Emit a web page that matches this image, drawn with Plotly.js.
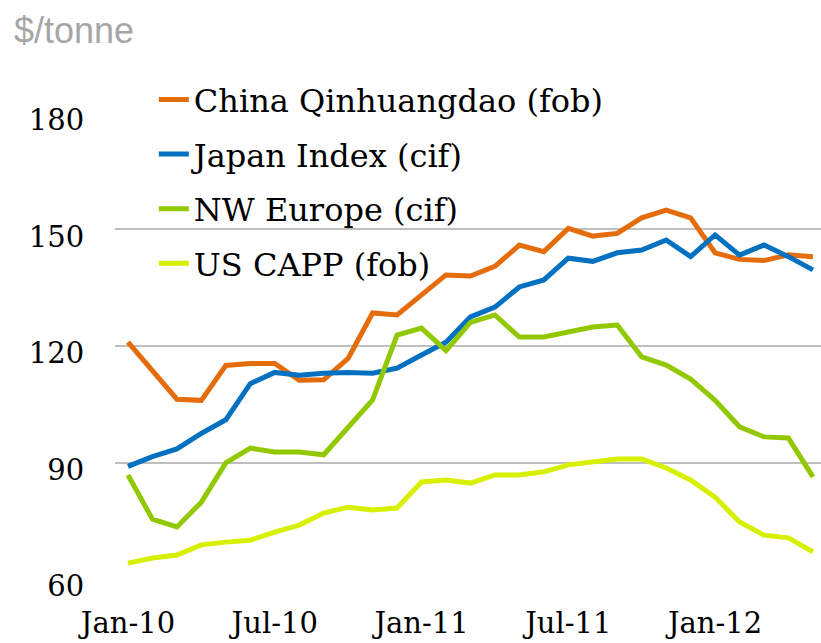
<!DOCTYPE html>
<html>
<head>
<meta charset="utf-8">
<script src="https://cdn.plot.ly/plotly-3.0.1.min.js"></script>
<style>html,body{margin:0;padding:0;background:#fff;}#chart{width:821px;height:643px;}</style>
</head>
<body>
<div id="chart"></div>
<script>
const months = ['Jan-10','Feb-10','Mar-10','Apr-10','May-10','Jun-10','Jul-10','Aug-10','Sep-10','Oct-10','Nov-10','Dec-10',
  'Jan-11','Feb-11','Mar-11','Apr-11','May-11','Jun-11','Jul-11','Aug-11','Sep-11','Oct-11','Nov-11','Dec-11',
  'Jan-12','Feb-12','Mar-12','Apr-12','May-12'];
const tickLabels = ['Jan-10','Jul-10','Jan-11','Jul-11','Jan-12'];
const yTicks = [60, 90, 120, 150, 180];

const seriesNames = ['China Qinhuangdao (fob)', 'Japan Index (cif)', 'NW Europe (cif)', 'US CAPP (fob)'];
const china  = [121, 113.5, 106.3, 106, 115, 115.5, 115.5, 111.2, 111.3, 116.8, 128.5, 128, 133, 138.3, 138, 140.5, 146, 144.3, 150.3, 148.3, 149, 153, 155, 153, 144, 142.3, 142, 143.5, 143];
const japan  = [89, 91.5, 93.5, 97.5, 101, 110.3, 113.2, 112.5, 113, 113.2, 113, 114.3, 117.7, 121, 127.5, 130, 135.2, 137, 142.6, 141.8, 144, 144.7, 147.3, 143, 148.6, 143.4, 146, 143, 139.6];
const europe = [86.8, 75.4, 73.4, 79.8, 89.9, 93.7, 92.7, 92.7, 92, 99.2, 106.1, 122.8, 124.6, 118.8, 126.1, 128, 122.3, 122.3, 123.6, 124.9, 125.4, 117.2, 115.1, 111.5, 106, 99.2, 96.6, 96.3, 86.3];
const usCapp = [64.1, 65.4, 66.2, 68.8, 69.5, 70, 72.1, 73.9, 77, 78.5, 77.8, 78.3, 85, 85.5, 84.7, 86.8, 86.8, 87.6, 89.4, 90.1, 90.9, 90.9, 88.6, 85.5, 81.1, 74.7, 71.3, 70.6, 67];
const colors = ['#E46C0A', '#0070C0', '#92C800', '#D8F000'];

const values = [china, japan, europe, usCapp];
const traces = values.map((v, i) => ({
  x: months, y: v, type: 'scatter', mode: 'lines', name: seriesNames[i],
  legendgroup: 'g' + i,
  line: {color: colors[i], width: 5, shape: 'linear'}
}));

const tickFont = {family: 'DejaVu Serif, serif', size: 29, color: '#000'};
const legendFont = {family: 'DejaVu Serif, serif', size: 32, color: '#000'};

const layout = {
  width: 821, height: 643,
  margin: {l: 115, r: 0, t: 112, b: 63, pad: 0},
  paper_bgcolor: '#fff', plot_bgcolor: '#fff',
  showlegend: true,
  title: {text: '$/tonne', x: 14/821, xanchor: 'left', xref: 'container', y: 1 - 18/643, yanchor: 'top', yref: 'container',
          font: {family: 'Liberation Sans, Arial, sans-serif', size: 36, color: '#A6A6A6'}},
  xaxis: {
    type: 'category', range: [-0.53, 28.33], tickmode: 'array', tickvals: tickLabels, ticktext: tickLabels,
    showgrid: false, zeroline: false, showline: false, ticks: 'outside', ticklen: 17, tickcolor: 'rgba(0,0,0,0)',
    tickfont: tickFont, automargin: false, fixedrange: true
  },
  yaxis: {
    range: [59.75, 180.25], tickmode: 'array', tickvals: yTicks, ticktext: yTicks.map(String),
    showgrid: true, gridcolor: '#BFBFBF', gridwidth: 2, zeroline: false, showline: false,
    ticks: 'outside', ticklen: 24, tickcolor: 'rgba(0,0,0,0)', tickfont: tickFont, ticklabelshift: 7,
    automargin: false, fixedrange: true
  },
  legend: {
    x: 0.055, xanchor: 'left', y: 1.085, yanchor: 'top', orientation: 'v',
    font: legendFont, bgcolor: 'rgba(0,0,0,0)', traceorder: 'grouped', tracegroupgap: 10
  }
};

Plotly.newPlot('chart', traces, layout, {displayModeBar: false, staticPlot: true});
</script>
</body>
</html>
